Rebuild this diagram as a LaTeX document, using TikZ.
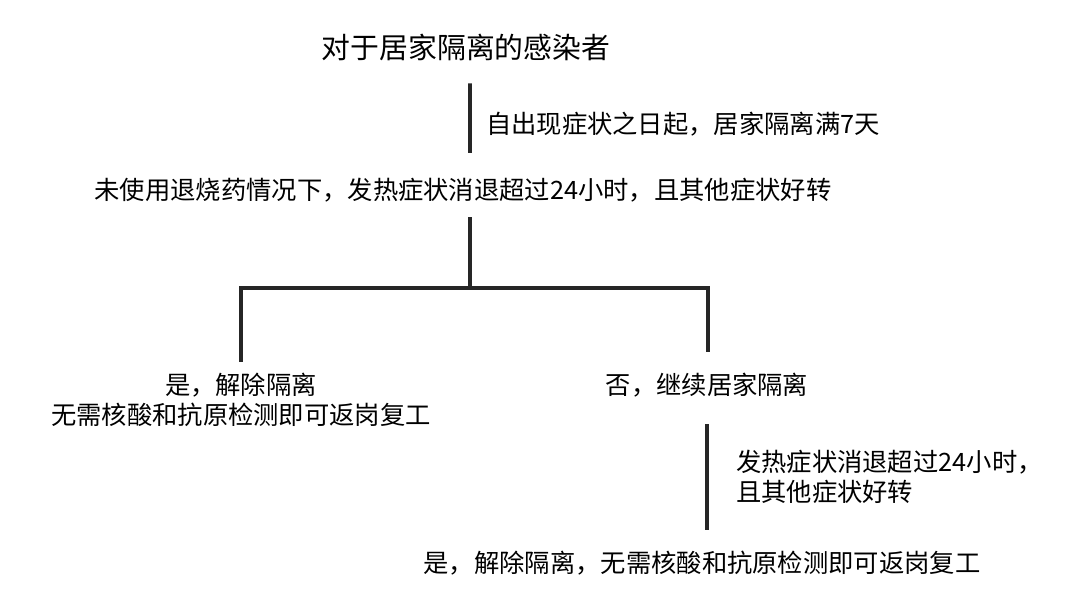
\documentclass[tikz,border=0pt]{standalone}
\usepackage{fontspec}
\setmainfont{Noto Sans CJK SC}
\tikzset{
  txt/.style={inner sep=2pt,font=\fontsize{18}{21.5}\selectfont},
  conn/.style={line width=2.6pt,draw=black!85}
}
\begin{document}
\begin{tikzpicture}[x=0.025cm,y=-0.025cm]
 \useasboundingbox (0,0) rectangle (1080,591);
 \node[txt,font=\fontsize{20.5}{24}\selectfont] (title) at (466,47) {对于居家隔离的感染者};
 \node[txt] (cond) at (463,190) {未使用退烧药情况下，发热症状消退超过24小时，且其他症状好转};
 \node[txt,anchor=west] (lbla) at (483,124) {自出现症状之日起，居家隔离满7天};
 \node[txt,align=center] (yes) at (241,400) {是，解除隔离\\无需核酸和抗原检测即可返岗复工};
 \node[txt] (no) at (707,385) {否，继续居家隔离};
 \node[txt,align=left,anchor=west] (lblb) at (733,477) {发热症状消退超过24小时，\\且其他症状好转};
 \node[txt] (final) at (702,563) {是，解除隔离，无需核酸和抗原检测即可返岗复工};
 \coordinate (split) at (470,288);
 \draw[conn,shorten <=0.5cm,shorten >=0.55cm] ([xshift=0.1cm]title.south) -- ([xshift=0.175cm]cond.north);
 \draw[conn,shorten <=0.3cm] ([xshift=0.175cm]cond.south) -- (split);
 \draw[conn,shorten <=0.2cm,shorten >=0.45cm] (yes.north) |- (split) -| ([xshift=0.025cm]no.north);
 \draw[conn,shorten <=0.6cm,shorten >=0.45cm] (no.south) -- (final.north -| no.south);
\end{tikzpicture}
\end{document}
